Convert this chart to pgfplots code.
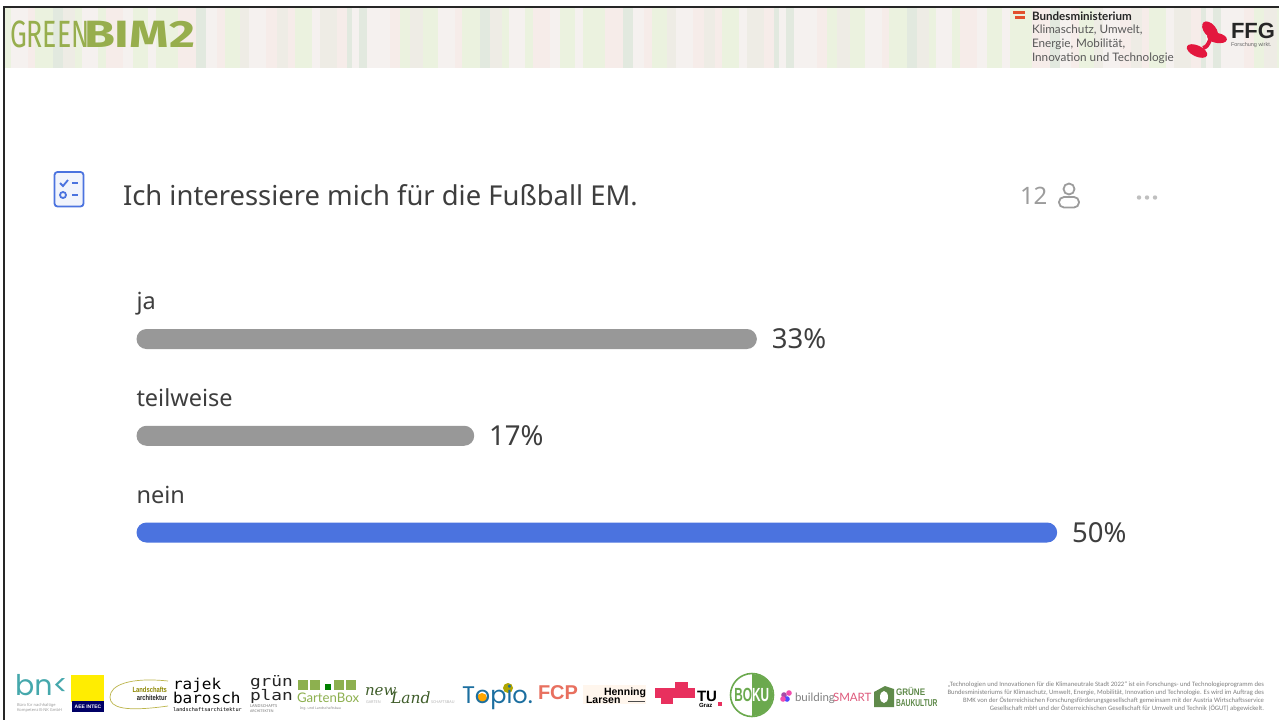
\documentclass[border=0pt]{standalone}
\usepackage{fontspec}
\usepackage{pgfplots}
\pgfplotsset{compat=1.18}
\setmainfont{Noto Sans}
\newfontfamily\liberation{Liberation Sans}
\newfontfamily\mono{DejaVu Sans Mono}
\newfontfamily\carlito{Carlito}
\newfontfamily\fira{Fira Sans}
\newfontfamily\lato{Lato}
\newfontfamily\poppins{Poppins}
\newfontfamily\dserif{DejaVu Serif}
\newcommand{\fs}[1]{\fontsize{#1pt}{#1pt}\selectfont}
% colours
\definecolor{gg}{HTML}{E2E9DF}
\definecolor{wh}{HTML}{F5F1EF}
\definecolor{pk}{HTML}{F6ECE9}
\definecolor{gr}{HTML}{EBF2DF}
\definecolor{bg}{HTML}{EEECE5}
\definecolor{barblue}{HTML}{4B73DF}
\definecolor{bargray}{HTML}{989898}
\definecolor{ink}{HTML}{3E3E3E}
\definecolor{soft}{HTML}{9C9C9C}
\definecolor{logogreen}{HTML}{97AE4D}
\definecolor{ffgred}{HTML}{E3173E}
\definecolor{flagred}{HTML}{E2502E}
\definecolor{bokugreen}{HTML}{6BA94E}
\definecolor{fcpred}{HTML}{E8705F}
\definecolor{tured}{HTML}{E8305E}
\definecolor{smartred}{HTML}{DE5A7C}
\definecolor{gbgreen}{HTML}{8DB04F}
\definecolor{topioblue}{HTML}{1C6FA0}
\definecolor{bnkteal}{HTML}{45A8AC}
\definecolor{newgreen}{HTML}{3F5D2A}
\definecolor{gkgreen}{HTML}{5F8A4A}
\begin{document}
\begin{tikzpicture}[x=1pt,y=-1pt,every node/.style={inner sep=0pt,outer sep=0pt}]
\useasboundingbox (0,0) rectangle (1279,720);
\fill[white] (0,0) rectangle (1279,720);

% banner stripes, one period is 427 px
\begin{scope}
\clip (5,8) rectangle (1279,68);
\foreach \off in {-231,196,623,1050}{
  \foreach \sa/\sb/\sc in {0/10/gg,10/21/wh,21/29/pk,29/44/gr,44/53/bg,53/70/wh,70/81/pk,81/92/bg,92/99/pk,99/116/gr,116/124/wh,124/141/bg,141/151/pk,151/156/gg,156/163/wh,163/171/gg,171/194/wh,194/204/pk,204/214/gr,214/227/bg,227/242/gr,242/259/wh,259/266/pk,266/284/gr,284/294/gg,294/306/bg,306/313/gr,313/329/wh,329/337/gr,337/354/pk,354/364/wh,364/379/gr,379/387/wh,387/409/gr,409/427/pk}{
    \fill[\sc] ({\off+\sa},8) rectangle ({\off+\sb},68);
  }
}
\end{scope}
% slide frame
\fill[black!85] (3,6) rectangle (1279,8);
\fill[black!85] (3,6) rectangle (5,720);

% header logos
\node[anchor=base west,text=logogreen,xscale=0.70] at (10,47) {\fira\fs{38}GREEN};
\node[anchor=base west,text=logogreen,xscale=1.32] at (84,47) {\fira\bfseries\fs{38}BIM2};
\fill[flagred] (1013,11) rectangle (1025,13.5);
\fill[flagred] (1015,16) rectangle (1025,19);
\node[anchor=base west,text=black!85] at (1032,20) {\lato\bfseries\fs{11.6}Bundesministerium};
\node[anchor=base west,text=black!65] at (1032,33) {\lato\fs{11.7}Klimaschutz, Umwelt,};
\node[anchor=base west,text=black!65] at (1032,47) {\lato\fs{11.7}Energie, Mobilität,};
\node[anchor=base west,text=black!65] at (1032,61) {\lato\fs{11.7}Innovation und Technologie};
\fill[ffgred,rotate around={-25:(1197,51)}] (1197,51) ellipse (11 and 5.5);
\fill[ffgred,rotate around={-50:(1210,30)}] (1210,30) ellipse (10 and 6);
\fill[ffgred,rotate around={-10:(1217,38)}] (1217,38) ellipse (10 and 5);
\draw[ffgred,line width=4pt] (1203,48) .. controls (1210,46) and (1208,40) .. (1212,38);
\node[anchor=base west,text=black!85] at (1231,38) {\liberation\bfseries\fs{22}FFG};
\node[anchor=base west,text=black!60] at (1231,46) {\liberation\fs{5.5}Forschung wirkt.};

% question row
\draw[barblue,line width=1.8pt,fill=barblue!8,rounded corners=3pt] (54.5,172) rectangle (83.5,206.5);
\draw[barblue,line width=1.8pt] (60,183) -- (63,186) -- (68,180);
\draw[barblue,line width=1.8pt] (72,183) -- (78,183);
\draw[barblue,line width=1.8pt] (63,195) circle (3);
\draw[barblue,line width=1.8pt] (72,195) -- (78,195);
\node[anchor=base west,text=ink] at (123,205) {\fs{27.4}Ich interessiere mich für die Fußball EM.};
\node[anchor=base west,text=soft] at (1020,204) {\fs{24}12};
\draw[soft,line width=1.8pt] (1069,189) circle (5.5);
\draw[soft,line width=1.8pt,rounded corners=5pt] (1059,197) rectangle (1079,207.5);
\foreach \dx in {1139,1147,1155}{\fill[black!25] (\dx,197.5) circle (2.2);}

% the poll itself
\begin{axis}[
    at={(136.5pt,-290.625pt)},
    anchor=north west,
    scale only axis,
    width=1000pt,
    height=290.25pt,
    xbar,
    bar width=20pt,
    bar shift=0pt,
    xmin=0, xmax=56.61,
    ymin=0.5, ymax=3.5,
    y dir=reverse,
    x filter/.expression={x+2.117},
    xtick=\empty,
    ytick={1,2,3},
    yticklabels={ja,teilweise,nein},
    major tick length=0pt,
    axis line style={draw=none},
    tick style={draw=none},
    yticklabel style={anchor=base west,inner sep=0pt,outer sep=0pt,xshift=0pt,yshift=29.5pt,
        font=\fs{23.5},text=ink},
    point meta=explicit,
    /pgf/number format/assume math mode=true,
    nodes near coords={\pgfmathprintnumber{\pgfplotspointmeta}\%},
    nodes near coords style={anchor=west,inner sep=0pt,xshift=15pt,font=\fs{27.5},text=ink},
    clip=false,
]
\addplot[fill=bargray,draw=none,rounded corners=10pt] coordinates {(33,1) [33] (17,2) [17]};
\addplot[fill=barblue,draw=none,rounded corners=10pt] coordinates {(50,3) [50]};
\end{axis}

% footer logos
\node[anchor=base west,text=bnkteal] at (15,695) {\poppins\fs{28.5}bn<};
\node[anchor=base west,text=black!40] at (17,706) {\fs{4}Büro für nachhaltige};
\node[anchor=base west,text=black!40] at (17,711) {\fs{4}Kompetenz B-NK GmbH};
\fill[yellow!95!orange] (71,675) rectangle (104,702);
\fill[blue!40!black] (72,701) rectangle (104,712);
\node[text=white] at (88,706.5) {\liberation\bfseries\fs{5}AEE INTEC};
\draw[olive!60,line width=.7pt] (168,681) .. controls (130,677) and (110,685) .. (110,697) .. controls (110,708) and (125,712) .. (168,706);
\node[anchor=base east,text=olive,xscale=.78] at (167,692.5) {\liberation\bfseries\fs{7.5}Landschafts};
\node[anchor=base east,text=black!85,xscale=.78] at (167,700.5) {\liberation\bfseries\fs{7.5}architektur};
\node[anchor=base west,text=black,xscale=1.07] at (173,689) {\mono\fs{15}rajek};
\node[anchor=base west,text=black,xscale=1.07] at (173,703) {\mono\fs{15}barosch};
\node[anchor=base west,text=black] at (173,711) {\mono\fs{5.2}landschaftsarchitektur};
\node[anchor=base west,text=black!85,xscale=1.23] at (250,686) {\mono\fs{14.5}grün};
\node[anchor=base west,text=black!85,xscale=1.23] at (250,700) {\mono\fs{14.5}plan};
\node[anchor=base west,text=black!55] at (250,707) {\fs{4}LANDSCHAFTS};
\node[anchor=base west,text=black!55] at (250,712) {\fs{3.6}ARCHITEKTEN};
\foreach \gx in {298,310,322,334,346}{\fill[gbgreen] (\gx,680) rectangle ({\gx+10},690);}
\fill[white] (322,680) rectangle (334,690);
\fill[green!50!black] (325,684) rectangle (331,690);
\node[anchor=base west,text=gbgreen] at (297,702) {\lato\fs{13.2}GartenBox};
\node[anchor=base west,text=black!45] at (300,709) {\fs{3.5}Ing. und Landschaftsbau};
\node[anchor=base west,text=newgreen] at (365,695) {\dserif\itshape\fs{15}new};
\node[anchor=base west,text=newgreen] at (391,703) {\dserif\itshape\fs{15.5}Land};
\node[anchor=base west,text=black!30] at (366,703) {\fs{3.8}GARTEN};
\node[anchor=base west,text=black!30] at (431,703) {\fs{3.8}SCHAFTSBAU};

\fill[orange!70!yellow] (482,698) circle (5);
\fill[olive!70!yellow] (508,688) circle (5);
\node[anchor=base west,text=topioblue] at (462,703) {\poppins\fs{24}Topio.};
\node[anchor=base west,text=fcpred] at (538,699) {\liberation\bfseries\fs{20}FCP};
\fill[orange!7] (583,685) rectangle (646,704);
\node[anchor=base east,text=black] at (646,695) {\liberation\bfseries\fs{10.5}Henning};
\node[anchor=base west,text=black] at (586,703.5) {\liberation\bfseries\fs{10.5}Larsen};
\draw[black!70,line width=.6pt] (628,701) -- (645,701);
\fill[tured] (655,688) rectangle (673,698);
\fill[tured] (661,698) rectangle (673,704);
\fill[tured] (673,688) rectangle (695,698);
\fill[tured] (675,682) rectangle (688,688);
\node[anchor=base west,text=black] at (697,701) {\liberation\bfseries\fs{15}TU};
\node[anchor=base west,text=black] at (699,707) {\liberation\bfseries\fs{6}Graz};
\fill[tured] (718,702) rectangle (722,706);

\fill[white] (752,695) circle (21);
\fill[bokugreen] (752,674) arc (-90:90:21) -- cycle;
\draw[bokugreen,line width=1.6pt] (752,695) circle (21.5);
\node[anchor=east,text=bokugreen,xscale=.62] at (752,695) {\liberation\bfseries\fs{19}BO};
\node[anchor=west,text=white,xscale=.62] at (752,695) {\liberation\bfseries\fs{19}KU};
\foreach \bx/\by/\bc in {784/695/violet,789/693/magenta,787/699/blue,783/699/magenta}{\fill[\bc!70] (\bx,\by) circle (2.8);}
\node[anchor=base west,text=black!50] at (795,701) {\lato\fs{11.5}building};
\node[anchor=base west,text=smartred] at (833,701) {\lato\fs{11.5}SMART};

\fill[gkgreen] (874,692) -- (885,686) -- (894,689) -- (894,707) -- (874,707) -- cycle;
\fill[white] (884,697) ellipse (4 and 6);
\node[anchor=base west,text=gkgreen,xscale=.85] at (896,695) {\liberation\bfseries\fs{9.5}GRÜNE};
\node[anchor=base west,text=gkgreen,xscale=.67] at (896,706) {\liberation\bfseries\fs{10}BAUKULTUR};

% programme note
\node[anchor=base east,text=black!50] at (1264,686) {\carlito\fs{6.67}„Technologien und Innovationen für die Klimaneutrale Stadt 2022“ ist ein Forschungs- und Technologieprogramm des};
\node[anchor=base east,text=black!50] at (1264,694) {\carlito\fs{6.67}Bundesministeriums für Klimaschutz, Umwelt, Energie, Mobilität, Innovation und Technologie. Es wird im Auftrag des};
\node[anchor=base east,text=black!50] at (1264,702) {\carlito\fs{6.67}BMK von der Österreichischen Forschungsförderungsgesellschaft gemeinsam mit der Austria Wirtschaftsservice};
\node[anchor=base east,text=black!50] at (1264,710) {\carlito\fs{6.67}Gesellschaft mbH und der Österreichischen Gesellschaft für Umwelt und Technik (ÖGUT) abgewickelt.};
\end{tikzpicture}
\end{document}
